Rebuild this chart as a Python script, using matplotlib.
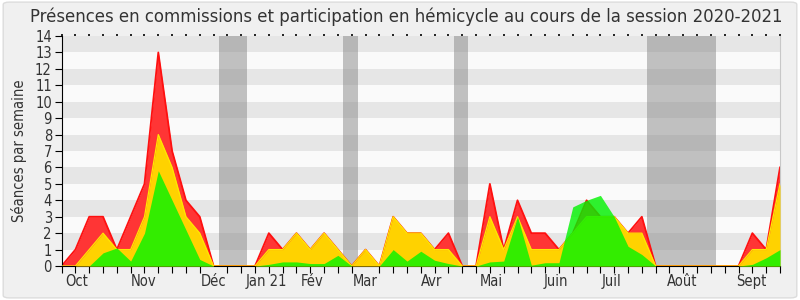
import matplotlib
matplotlib.use("Agg")
import matplotlib.pyplot as plt
from matplotlib.patches import FancyBboxPatch
import numpy as np

# ---- data (one value per week, 53 weeks) ----
red_total = [0, 1, 3, 3, 1, 3, 5, 13, 7, 4, 3, 0, 0, 0,
             0, 2, 1, 2, 1, 2, 1, 0, 1, 0, 3, 2, 2, 1, 2, 0,
             0, 5, 1, 4, 2, 2, 1, 2, 4, 3, 3, 2, 3, 0,
             0, 0, 0, 0, 0, 0, 2, 1, 6]
yellow_vals = [0, 0, 1, 2, 1, 1, 3, 8, 6, 3, 2, 0, 0, 0,
               0, 1, 1, 2, 1, 2, 1, 0, 1, 0, 3, 2, 2, 1, 1, 0,
               0, 3, 1, 3, 1, 1, 1, 2, 3, 3, 3, 2, 2, 0,
               0, 0, 0, 0, 0, 0, 1, 1, 5]
green_vals = [0, 0, 0, 0.8, 1.1, 0.3, 2, 5.8, 4, 2.2, 0.4, 0, 0, 0,
              0, 0.1, 0.25, 0.25, 0.15, 0.15, 0.65, 0, 0, 0, 1.0, 0.3, 0.9, 0.35, 0.15, 0,
              0, 0.25, 0.3, 3, 0.05, 0.2, 0.2, 3.6, 4.0, 4.3, 3, 1.2, 0.7, 0,
              0, 0, 0, 0, 0, 0, 0.1, 0.5, 1.0]
vacances = [(11.4, 13.4), (20.4, 21.45), (28.4, 29.4), (42.4, 47.4)]
month_labels = ["Oct", "Nov", "Déc", "Jan 21", "Fév", "Mar", "Avr", "Mai",
                "Juin", "Juil", "Août", "Sept"]
month_pos = [1.1, 5.9, 11.0, 14.8, 18.1, 22.0, 26.8, 31.1, 35.8, 39.8, 44.9, 49.9]
title = "Présences en commissions et participation en hémicycle au cours de la session 2020-2021"
ylabel = "Séances par semaine"

weeks = np.arange(len(red_total))

fig = plt.figure(figsize=(8, 3), dpi=100, facecolor="white")
bg = FancyBboxPatch((0.004, 0.007), 0.992, 0.986, boxstyle="round,pad=0,rounding_size=0.008",
                    transform=fig.transFigure, facecolor="#f0f0f0", edgecolor="#dcdcdc",
                    linewidth=1, zorder=-10)
fig.patches.append(bg)

ax = fig.add_axes([0.077, 0.1133, 0.898, 0.7667])
ax.set_facecolor("#fafafa")
for k in range(1, 14, 2):
    ax.axhspan(k, k + 1, color="#e6e6e6", lw=0, zorder=0)
for a, b in vacances:
    ax.axvspan(a, b, color="#888888", alpha=0.5, lw=0, zorder=1)

ax.fill_between(weeks, 0, red_total, color="#ff3535", lw=0, zorder=2)
ax.plot(weeks, red_total, color="#ff1010", lw=1.3, zorder=2.5)
ax.fill_between(weeks, 0, yellow_vals, color="#ffd200", lw=0, zorder=3)
ax.plot(weeks, yellow_vals, color="#ffe800", lw=0.9, zorder=3.5)
ax.fill_between(weeks, 0, green_vals, color=(0.0, 0.957, 0.0), alpha=0.8, lw=0, zorder=4)

ax.set_xlim(0, 52)
ax.set_ylim(0, 14)
ax.set_yticks(range(0, 15))
ax.set_xticks(month_pos)
ax.set_xticklabels(month_labels)
ax.set_xticks(weeks, minor=True)
ax.tick_params(axis="x", which="major", length=0, pad=5.5, labelsize=10.5, colors="#333333")
ax.tick_params(axis="x", which="minor", length=5, direction="out", color="black", width=0.8)
ax.tick_params(axis="y", which="major", length=5, direction="out", width=0.8,
               labelsize=10.5, labelcolor="#333333", pad=2)
for lab in ax.get_xticklabels() + ax.get_yticklabels():
    lab.set_fontstretch("condensed")

# small tick dots along the top edge
top = ax.secondary_xaxis("top")
top.set_xticks(weeks)
top.tick_params(axis="x", length=1.5, width=1.2, direction="out", color="black",
                labeltop=False)
top.spines["top"].set_visible(False)

ax.spines["top"].set_visible(False)
ax.spines["right"].set_color("#c8c8c8")
ax.spines["left"].set_color("black")
ax.spines["bottom"].set_color("black")

ax.set_ylabel(ylabel, fontsize=10.5, color="#333333", labelpad=6, fontstretch="condensed")
fig.text(0.508, 0.945, title, ha="center", va="center", fontsize=13.2, color="#333333",
         fontstretch="condensed")

fig.savefig("out.png", dpi=100, facecolor=fig.get_facecolor())
